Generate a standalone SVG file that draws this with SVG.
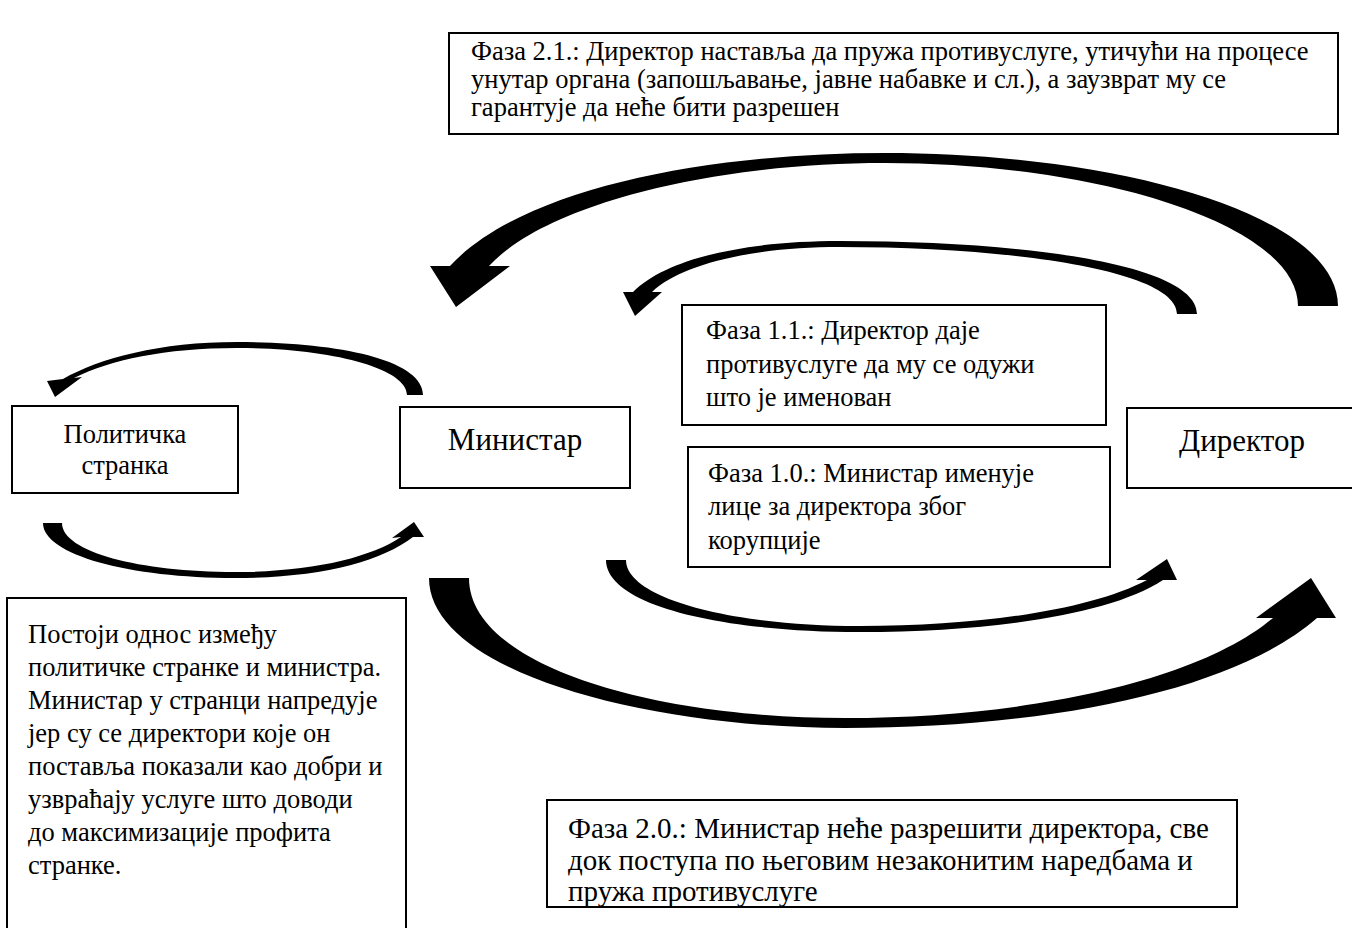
<svg xmlns="http://www.w3.org/2000/svg" width="1352" height="928" viewBox="0 0 1352 928">
<style>
.box{fill:#fff;stroke:#000;stroke-width:2}
text{font-family:'Liberation Serif','DejaVu Serif',serif;fill:#000}
.t{font-size:26.5px}
.t2{font-size:29px}
.big{font-size:31px}
.arr{fill:#000;stroke:none}
</style>
<rect width="1352" height="928" fill="#fff"/>
<g id="connectors">
<path class="arr" d="M1338 306 C1338 215 1120 153 885 153 C700 153 520 190 450 266 L430 266 L456 307 L510 266 L489 266 C545 205 710 163 885 163 C1100 163 1298 225 1298 306 Z"/>
<path class="arr" d="M1197 314 C1197 265 1030 241 840 241 C740 241 665 260 633 292 L623 292 L635 316 L662 292 L652 292 C680 265 750 247 840 247 C1010 247 1177 270 1177 314 Z"/>
<path class="arr" d="M423 395 C423 360 340 342 237 342 C160 342 100 358 63 379 L47 381 L55 397 L82 377 L74 378 C110 360 165 348 237 348 C330 348 407 368 407 395 Z"/>
<path class="arr" d="M43 523 C43 555 130 578 235 578 C320 578 380 562 413 537 L424 537 L414 522 L392 538 L401 537 C370 558 310 572 235 572 C140 572 62 552 62 523 Z"/>
<path class="arr" d="M606 560 C606 605 720 632 860 632 C990 632 1110 615 1163 580 L1177 580 L1167 559 L1136 580 L1147 580 C1090 610 980 626 860 626 C730 626 626 598 626 560 Z"/>
<path class="arr" d="M429 578 C429 670 640 728 845 728 C1050 728 1235 690 1317 618 L1336 618 L1311 578 L1256 618 L1273 618 C1200 680 1030 718 845 718 C650 718 469 665 469 578 Z"/>
</g>
<g id="phase21">
<rect class="box" x="449" y="33" width="889" height="101"/>
<text class="t" x="471" y="60">Фаза 2.1.: Директор наставља да пружа противуслуге, утичући на процесе</text>
<text class="t" x="471" y="88">унутар органа (запошљавање, јавне набавке и сл.), а заузврат му се</text>
<text class="t" x="471" y="116">гарантује да неће бити разрешен</text>
</g>
<g id="stranka">
<rect class="box" x="12" y="406" width="226" height="87"/>
<text class="t" x="125" y="443" text-anchor="middle">Политичка</text>
<text class="t" x="125" y="474" text-anchor="middle">странка</text>
</g>
<g id="ministar">
<rect class="box" x="400" y="407" width="230" height="81"/>
<text class="big" x="515" y="450" text-anchor="middle">Министар</text>
</g>
<g id="direktor">
<rect class="box" x="1127" y="408" width="232" height="80"/>
<text class="big" x="1242" y="451" text-anchor="middle">Директор</text>
</g>
<g id="phase11">
<rect class="box" x="682" y="305" width="424" height="120"/>
<text class="t" x="706" y="339">Фаза 1.1.: Директор даје</text>
<text class="t" x="706" y="373">противуслуге да му се одужи</text>
<text class="t" x="706" y="406">што је именован</text>
</g>
<g id="phase10">
<rect class="box" x="688" y="447" width="422" height="120"/>
<text class="t" x="708" y="482">Фаза 1.0.: Министар именује</text>
<text class="t" x="708" y="515">лице за директора због</text>
<text class="t" x="708" y="549">корупције</text>
</g>
<g id="note">
<rect class="box" x="7" y="598" width="399" height="340"/>
<text class="t" x="28" y="643">Постоји однос између</text>
<text class="t" x="28" y="676">политичке странке и министра.</text>
<text class="t" x="28" y="709">Министар у странци напредује</text>
<text class="t" x="28" y="742">јер су се директори које он</text>
<text class="t" x="28" y="775">поставља показали као добри и</text>
<text class="t" x="28" y="808">узвраћају услуге што доводи</text>
<text class="t" x="28" y="841">до максимизације профита</text>
<text class="t" x="28" y="874">странке.</text>
</g>
<g id="phase20">
<rect class="box" x="547" y="800" width="690" height="107"/>
<text class="t2" x="568" y="838">Фаза 2.0.: Министар неће разрешити директора, све</text>
<text class="t2" x="568" y="870">док поступа по његовим незаконитим наредбама и</text>
<text class="t2" x="568" y="901">пружа противуслуге</text>
</g>
</svg>
